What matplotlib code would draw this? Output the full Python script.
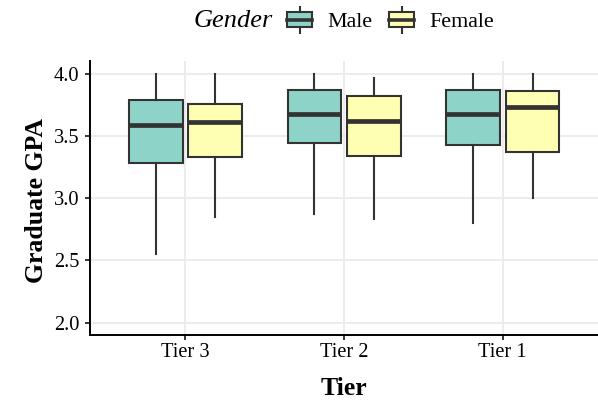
import matplotlib
matplotlib.use("Agg")
import matplotlib.pyplot as plt
from matplotlib.patches import Rectangle, Patch
from matplotlib.lines import Line2D
from matplotlib.legend_handler import HandlerBase
from matplotlib.offsetbox import HPacker

tiers = ["Tier 3", "Tier 2", "Tier 1"]
genders = ["Male", "Female"]
colors = {"Male": "#8DD3C7", "Female": "#FFFFB3"}

# whislo, q1, median, q3, whishi per tier
male_stats = [
    [2.55, 3.28, 3.59, 3.79, 4.00],
    [2.87, 3.44, 3.68, 3.87, 4.00],
    [2.80, 3.43, 3.68, 3.87, 4.00],
]
female_stats = [
    [2.85, 3.335, 3.61, 3.757, 4.00],
    [2.835, 3.336, 3.62, 3.823, 3.965],
    [3.005, 3.374, 3.73, 3.86, 4.00],
]
yticks = [2.0, 2.5, 3.0, 3.5, 4.0]

plt.rcParams['font.family'] = ['Liberation Serif', 'DejaVu Serif']
edge = "#333333"

fig = plt.figure(figsize=(5.98, 4.0), dpi=100)
ax = fig.add_axes([0.151, 0.1625, 0.849, 0.684])

def mk(st, label):
    return dict(whislo=st[0], q1=st[1], med=st[2], q3=st[3], whishi=st[4], fliers=[], label=label)

for g, stats, off in [("Male", male_stats, -0.1875), ("Female", female_stats, 0.1875)]:
    bstats = [mk(s, t) for s, t in zip(stats, tiers)]
    pos = [i + 1 + off for i in range(len(tiers))]
    ax.bxp(bstats, positions=pos, widths=0.3375, patch_artist=True, showcaps=False,
           boxprops=dict(facecolor=colors[g], edgecolor=edge, linewidth=1.5),
           whiskerprops=dict(color=edge, linewidth=1.5),
           medianprops=dict(color=edge, linewidth=3.4, solid_capstyle='butt'),
           manage_ticks=False, zorder=3)

ax.set_xlim(0.4, 3.6)
ax.set_ylim(1.9, 4.1)
ax.set_xticks(range(1, len(tiers) + 1))
ax.set_xticklabels(tiers)
ax.set_yticks(yticks)
ax.set_yticklabels([f"{v:.1f}" for v in yticks])
ax.grid(True, color="#ebebeb", linewidth=1.3, zorder=0)
ax.set_axisbelow(True)
for s in ["top", "right"]:
    ax.spines[s].set_visible(False)
for s in ["left", "bottom"]:
    ax.spines[s].set_color("black")
    ax.spines[s].set_linewidth(1.4)
ax.tick_params(axis='both', colors="black", labelsize=14.7, length=3.5, width=1.1)
ax.tick_params(axis='y', pad=4.5)
ax.tick_params(axis='x', pad=2.0)
ax.set_xlabel("Tier", fontsize=18.5, fontweight='bold')
ax.set_ylabel("Graduate GPA", fontsize=18.5, fontweight='bold')
ax.xaxis.set_label_coords(0.4995, -0.1535)
ax.yaxis.set_label_coords(-0.083, 0.493)


class BoxHandler(HandlerBase):
    def create_artists(self, legend, orig_handle, xdescent, ydescent, width, height, fontsize, trans):
        px = legend.figure.dpi / 72.0
        w = 25 / px
        x0 = -xdescent
        yc = -ydescent + height / 2
        bh = 15 / px
        rect = Rectangle((x0, yc - bh / 2), w, bh, facecolor=orig_handle.get_facecolor(),
                         edgecolor=edge, linewidth=1.5, transform=trans)
        med = Line2D([x0, x0 + w], [yc, yc], color=edge, linewidth=2.6, transform=trans)
        wt = Line2D([x0 + w / 2] * 2, [yc + bh / 2, yc + 13 / px], color=edge, linewidth=1.5, transform=trans)
        wb = Line2D([x0 + w / 2] * 2, [yc - 13 / px, yc - bh / 2], color=edge, linewidth=1.5, transform=trans)
        return [rect, med, wt, wb]

lab_fs = 15.8
em_px = lab_fs * 100 / 72
handles = [Patch(facecolor=colors[g], edgecolor=edge) for g in genders]
leg = fig.legend(handles, genders, loc="center", bbox_to_anchor=(0.575, 0.947), ncol=2,
                 frameon=False, fontsize=lab_fs, handler_map={Patch: BoxHandler()},
                 title="Gender", title_fontproperties={'size': 19, 'style': 'italic', 'family': 'Liberation Serif'},
                 handlelength=25 / em_px, handleheight=1.0, handletextpad=15 / em_px,
                 columnspacing=17 / em_px, borderpad=0, borderaxespad=0)
title_box = leg._legend_title_box
handle_box = leg._legend_handle_box
leg._legend_box._children = [HPacker(pad=0, sep=10.5, children=[title_box, handle_box], align="center")]

fig.savefig("out.png", dpi=100)
